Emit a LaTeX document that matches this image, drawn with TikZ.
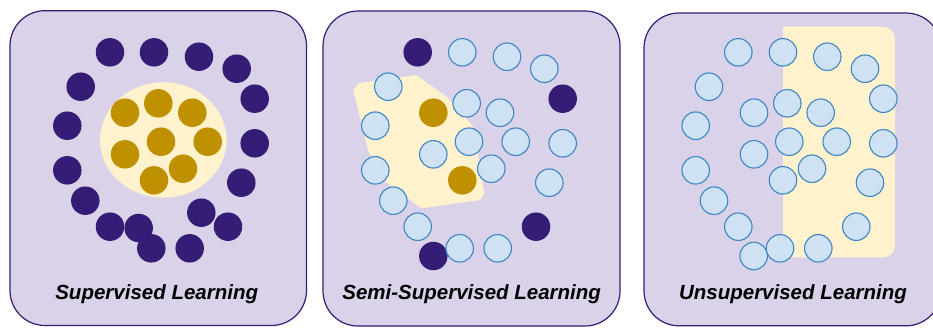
\documentclass[tikz,border=0pt]{standalone}
\usepackage{fontspec}
\setmainfont{Liberation Sans}
\definecolor{panelfill}{HTML}{D9D2E9}
\definecolor{panelline}{HTML}{351C75}
\definecolor{darkdot}{HTML}{351C75}
\definecolor{golddot}{HTML}{BF9000}
\definecolor{cream}{HTML}{FFF2CC}
\definecolor{lightdot}{HTML}{CFE2F3}
\definecolor{lightline}{HTML}{3D85C6}
\tikzset{
  panel/.style={fill=panelfill, draw=panelline, line width=1.2bp, rounded corners=35bp},
  dk/.style={circle, fill=darkdot, minimum size=28.5bp, inner sep=0pt},
  gd/.style={circle, fill=golddot, minimum size=28.5bp, inner sep=0pt},
  lb/.style={circle, fill=lightdot, draw=lightline, line width=1.1bp, minimum size=27.5bp, inner sep=0pt},
  captext/.style={anchor=base, font=\fontsize{20.5bp}{24bp}\selectfont\bfseries\itshape, text=black, inner sep=0pt}
}
\begin{document}
\begin{tikzpicture}[x=1bp,y=-1bp]
\useasboundingbox (0,0) rectangle (933,327);
% panels
\draw[panel] (10,10.7) rectangle (306.5,325.5);
\draw[panel] (323,11) rectangle (620,326);
\draw[panel] (644,13) rectangle (941,325.8);

% ---------- Panel 1 ----------
\fill[cream] (163.3,140) ellipse [x radius=63.3, y radius=57.7];
\node[dk] (a1) at (110,52.3) {};
\node[dk] (a2) at (154,52.3) {};
\node[dk] (a3) at (199,56.7) {};
\node[dk] (a4) at (236.7,68.7) {};
\node[dk] (a5) at (80.7,86.7) {};
\node[dk] (a6) at (254.7,98.7) {};
\node[dk] (a7) at (67.3,125.7) {};
\node[dk] (a8) at (254.7,143.3) {};
\node[dk] (a9) at (67.3,170.3) {};
\node[dk] (a10) at (241.3,182.7) {};
\node[dk] (a11) at (85.3,200.7) {};
\node[dk] (a12) at (201.3,212.7) {};
\node[dk] (a13) at (110,226.7) {};
\node[dk] (a14) at (138.7,228) {};
\node[dk] (a15) at (228,226.7) {};
\node[dk] (a16) at (151.3,248.3) {};
\node[dk] (a17) at (189.7,248.3) {};
\node[gd] (g1) at (125,112.7) {};
\node[gd] (g2) at (158.3,103.3) {};
\node[gd] (g3) at (192.3,112.7) {};
\node[gd] (g4) at (161,141.7) {};
\node[gd] (g5) at (207.7,141.7) {};
\node[gd] (g6) at (125,154.3) {};
\node[gd] (g7) at (183,168.7) {};
\node[gd] (g8) at (154,180.3) {};
\node[captext] (t1) at (156.7,299.3) {Supervised Learning};

% ---------- Panel 2 ----------
\fill[cream] (353.3,90) -- (358.3,83.3) -- (416,75) -- (447,97) -- (473.3,126.7)
  -- (484.3,193.3) -- (480,200) -- (421.7,208.3) -- (383,180) -- (368,150) -- cycle;
\node[dk] (b1) at (417.7,52.3) {};
\node[dk] (b2) at (562.7,98.7) {};
\node[dk] (b3) at (536,226.7) {};
\node[dk] (b4) at (433.3,256) {};
\node[lb] (c1) at (462.3,52.3) {};
\node[lb] (c2) at (507,56.7) {};
\node[lb] (c3) at (544.3,68.7) {};
\node[lb] (c4) at (388.3,86.7) {};
\node[lb] (c5) at (466.7,103.3) {};
\node[lb] (c6) at (500,112.7) {};
\node[lb] (c7) at (375.3,125.7) {};
\node[lb] (c8) at (469,141.7) {};
\node[lb] (c9) at (515.7,141.7) {};
\node[lb] (c10) at (562.7,143.3) {};
\node[lb] (c11) at (433.3,154.3) {};
\node[lb] (c12) at (375.3,170.3) {};
\node[lb] (c13) at (491.3,168.7) {};
\node[lb] (c14) at (549.3,182.7) {};
\node[lb] (c15) at (393.3,200.7) {};
\node[lb] (c16) at (417.7,226.7) {};
\node[lb] (c17) at (459.7,248.3) {};
\node[lb] (c18) at (497.7,248.3) {};
\node[gd] (h1) at (433.3,112.7) {};
\node[gd] (h2) at (462.3,180.3) {};
\node[captext] (t2) at (471.7,299.3) {Semi-Supervised Learning};

% ---------- Panel 3 ----------
\fill[cream, rounded corners=12bp] (783.3,26.7) -- (895,26.7) -- (895,257.3) -- (783.3,257.3);
\fill[cream] (783.3,26.7) rectangle (800,257.3);
\node[lb] (d1) at (738.3,52.3) {};
\node[lb] (d2) at (783,52.3) {};
\node[lb] (d3) at (827.3,56.7) {};
\node[lb] (d4) at (865,68.7) {};
\node[lb] (d5) at (709,86.7) {};
\node[lb] (d6) at (883.3,98.7) {};
\node[lb] (d7) at (787.3,103.3) {};
\node[lb] (d8) at (754,112.7) {};
\node[lb] (d9) at (820.7,112.7) {};
\node[lb] (d10) at (695.7,125.7) {};
\node[lb] (d11) at (789.3,141.7) {};
\node[lb] (d12) at (836.7,141.7) {};
\node[lb] (d13) at (883.3,143.3) {};
\node[lb] (d14) at (754,154.3) {};
\node[lb] (d15) at (695.7,170.3) {};
\node[lb] (d16) at (812,168.7) {};
\node[lb] (d17) at (783,180.3) {};
\node[lb] (d18) at (870,182.7) {};
\node[lb] (d19) at (714,200.7) {};
\node[lb] (d20) at (856.3,226.7) {};
\node[lb] (d21) at (738.3,226.7) {};
\node[lb] (d22) at (753.7,256) {};
\node[lb] (d23) at (780,248.3) {};
\node[lb] (d24) at (818.3,248.3) {};
\node[captext] (t3) at (793,299.3) {Unsupervised Learning};
\end{tikzpicture}
\end{document}
